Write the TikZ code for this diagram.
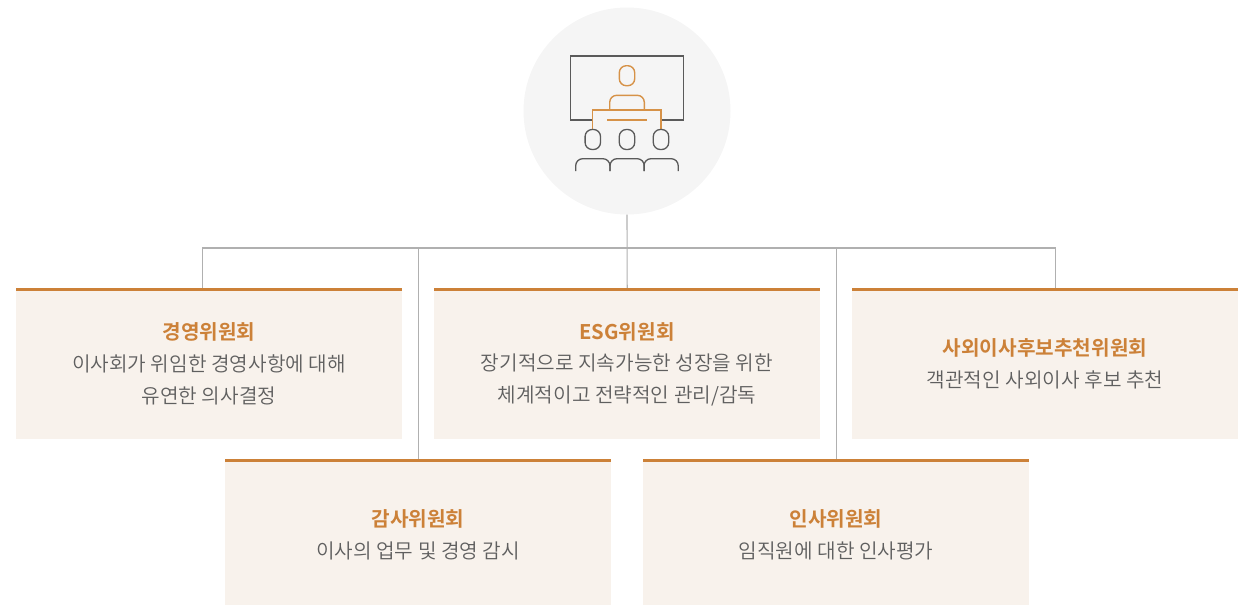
\documentclass[tikz,border=0pt]{standalone}
\usepackage{fontspec}
\setmainfont{Noto Sans CJK KR}[UprightFont={* DemiLight},BoldFont={* Bold}]
\definecolor{boxfill}{HTML}{F8F2EC}
\definecolor{boxtop}{HTML}{CC8138}
\definecolor{linegray}{HTML}{B0B0B0}
\definecolor{txtgray}{HTML}{5F5F5F}
\definecolor{iconorange}{HTML}{D69248}
\definecolor{icongray}{HTML}{5A5A5A}
\begin{document}
\begin{tikzpicture}[x=1pt,y=-1pt,
 boxnode/.style={draw=none,fill=boxfill,minimum width=386pt,inner sep=0pt,anchor=north west},
 topbar/.style={draw=boxtop,line width=3pt},
 conn/.style={draw=linegray,line width=1.1pt},
 ttl/.style={text=boxtop,font=\fontsize{20.2}{32}\selectfont\bfseries},
 dsc/.style={text=txtgray,align=center,font=\fontsize{20.2}{32}\selectfont},
 ig/.style={draw=icongray,line width=1.3pt},
 io/.style={draw=iconorange,line width=1.4pt}]
\useasboundingbox (0,0) rectangle (1247,605);
\node[circle,fill=black!4,minimum size=207pt,inner sep=0pt] (hub) at (627,111) {};
\node[boxnode,minimum height=151pt] (a) at (16,288) {};
\node[boxnode,minimum height=151pt] (b) at (434,288) {};
\node[boxnode,minimum height=151pt] (c) at (852,288) {};
\node[boxnode,minimum height=146pt] (d) at (225,459) {};
\node[boxnode,minimum height=146pt] (e) at (643,459) {};
\coordinate (bus) at (627,248);
\draw[conn] (hub.south) -- (b.north);
\draw[conn] ([xshift=-7pt]a.north) |- (bus);
\draw[conn] ([xshift=10pt]c.north) |- (bus);
\draw[conn] (d.north) |- (bus);
\draw[conn] (e.north) |- (bus);
\foreach \n in {a,b,c,d,e}{\draw[topbar] ([yshift=-1pt]\n.north west) -- ([yshift=-1pt]\n.north east);}
\node[ttl] (at) at (209,332) {경영위원회};
\node[dsc] (ad) at (209,380) {이사회가 위임한 경영사항에 대해\\유연한 의사결정};
\node[ttl] (bt) at (627,332) {ESG위원회};
\node[dsc] (bd) at (627,380) {장기적으로 지속가능한 성장을 위한\\체계적이고 전략적인 관리/감독};
\node[ttl] (ct) at (1045,348) {사외이사후보추천위원회};
\node[dsc] (cd) at (1045,380) {객관적인 사외이사 후보 추천};
\node[ttl] (dt) at (418,519) {감사위원회};
\node[dsc] (dd) at (418,551) {이사의 업무 및 경영 감시};
\node[ttl] (et) at (836,519) {인사위원회};
\node[dsc] (ed) at (836,551) {임직원에 대한 인사평가};
% icon
\draw[ig] (592.7,120) -- (570.7,120) -- (570.7,56) -- (683.3,56) -- (683.3,120) -- (661,120);
\draw[io,rounded corners=7pt] (619.3,65.7) rectangle (634.7,85.7);
\draw[io,rounded corners=7pt] (609.7,110) -- (609.7,95.3) -- (644.3,95.3) -- (644.3,110);
\draw[io] (592.7,129.3) -- (592.7,110) -- (661,110) -- (661,129.3);
\draw[io] (607.3,120) -- (646.7,120);
\foreach \x in {592.8,627,661}{\draw[ig,rounded corners=7pt] (\x-7.7,129.5) rectangle (\x+7.7,149.5);}
\foreach \x in {575.7,610,644}{\draw[ig,rounded corners=7pt] (\x,171) -- (\x,158.7) -- (\x+34.2,158.7) -- (\x+34.2,171);}
\end{tikzpicture}
\end{document}
